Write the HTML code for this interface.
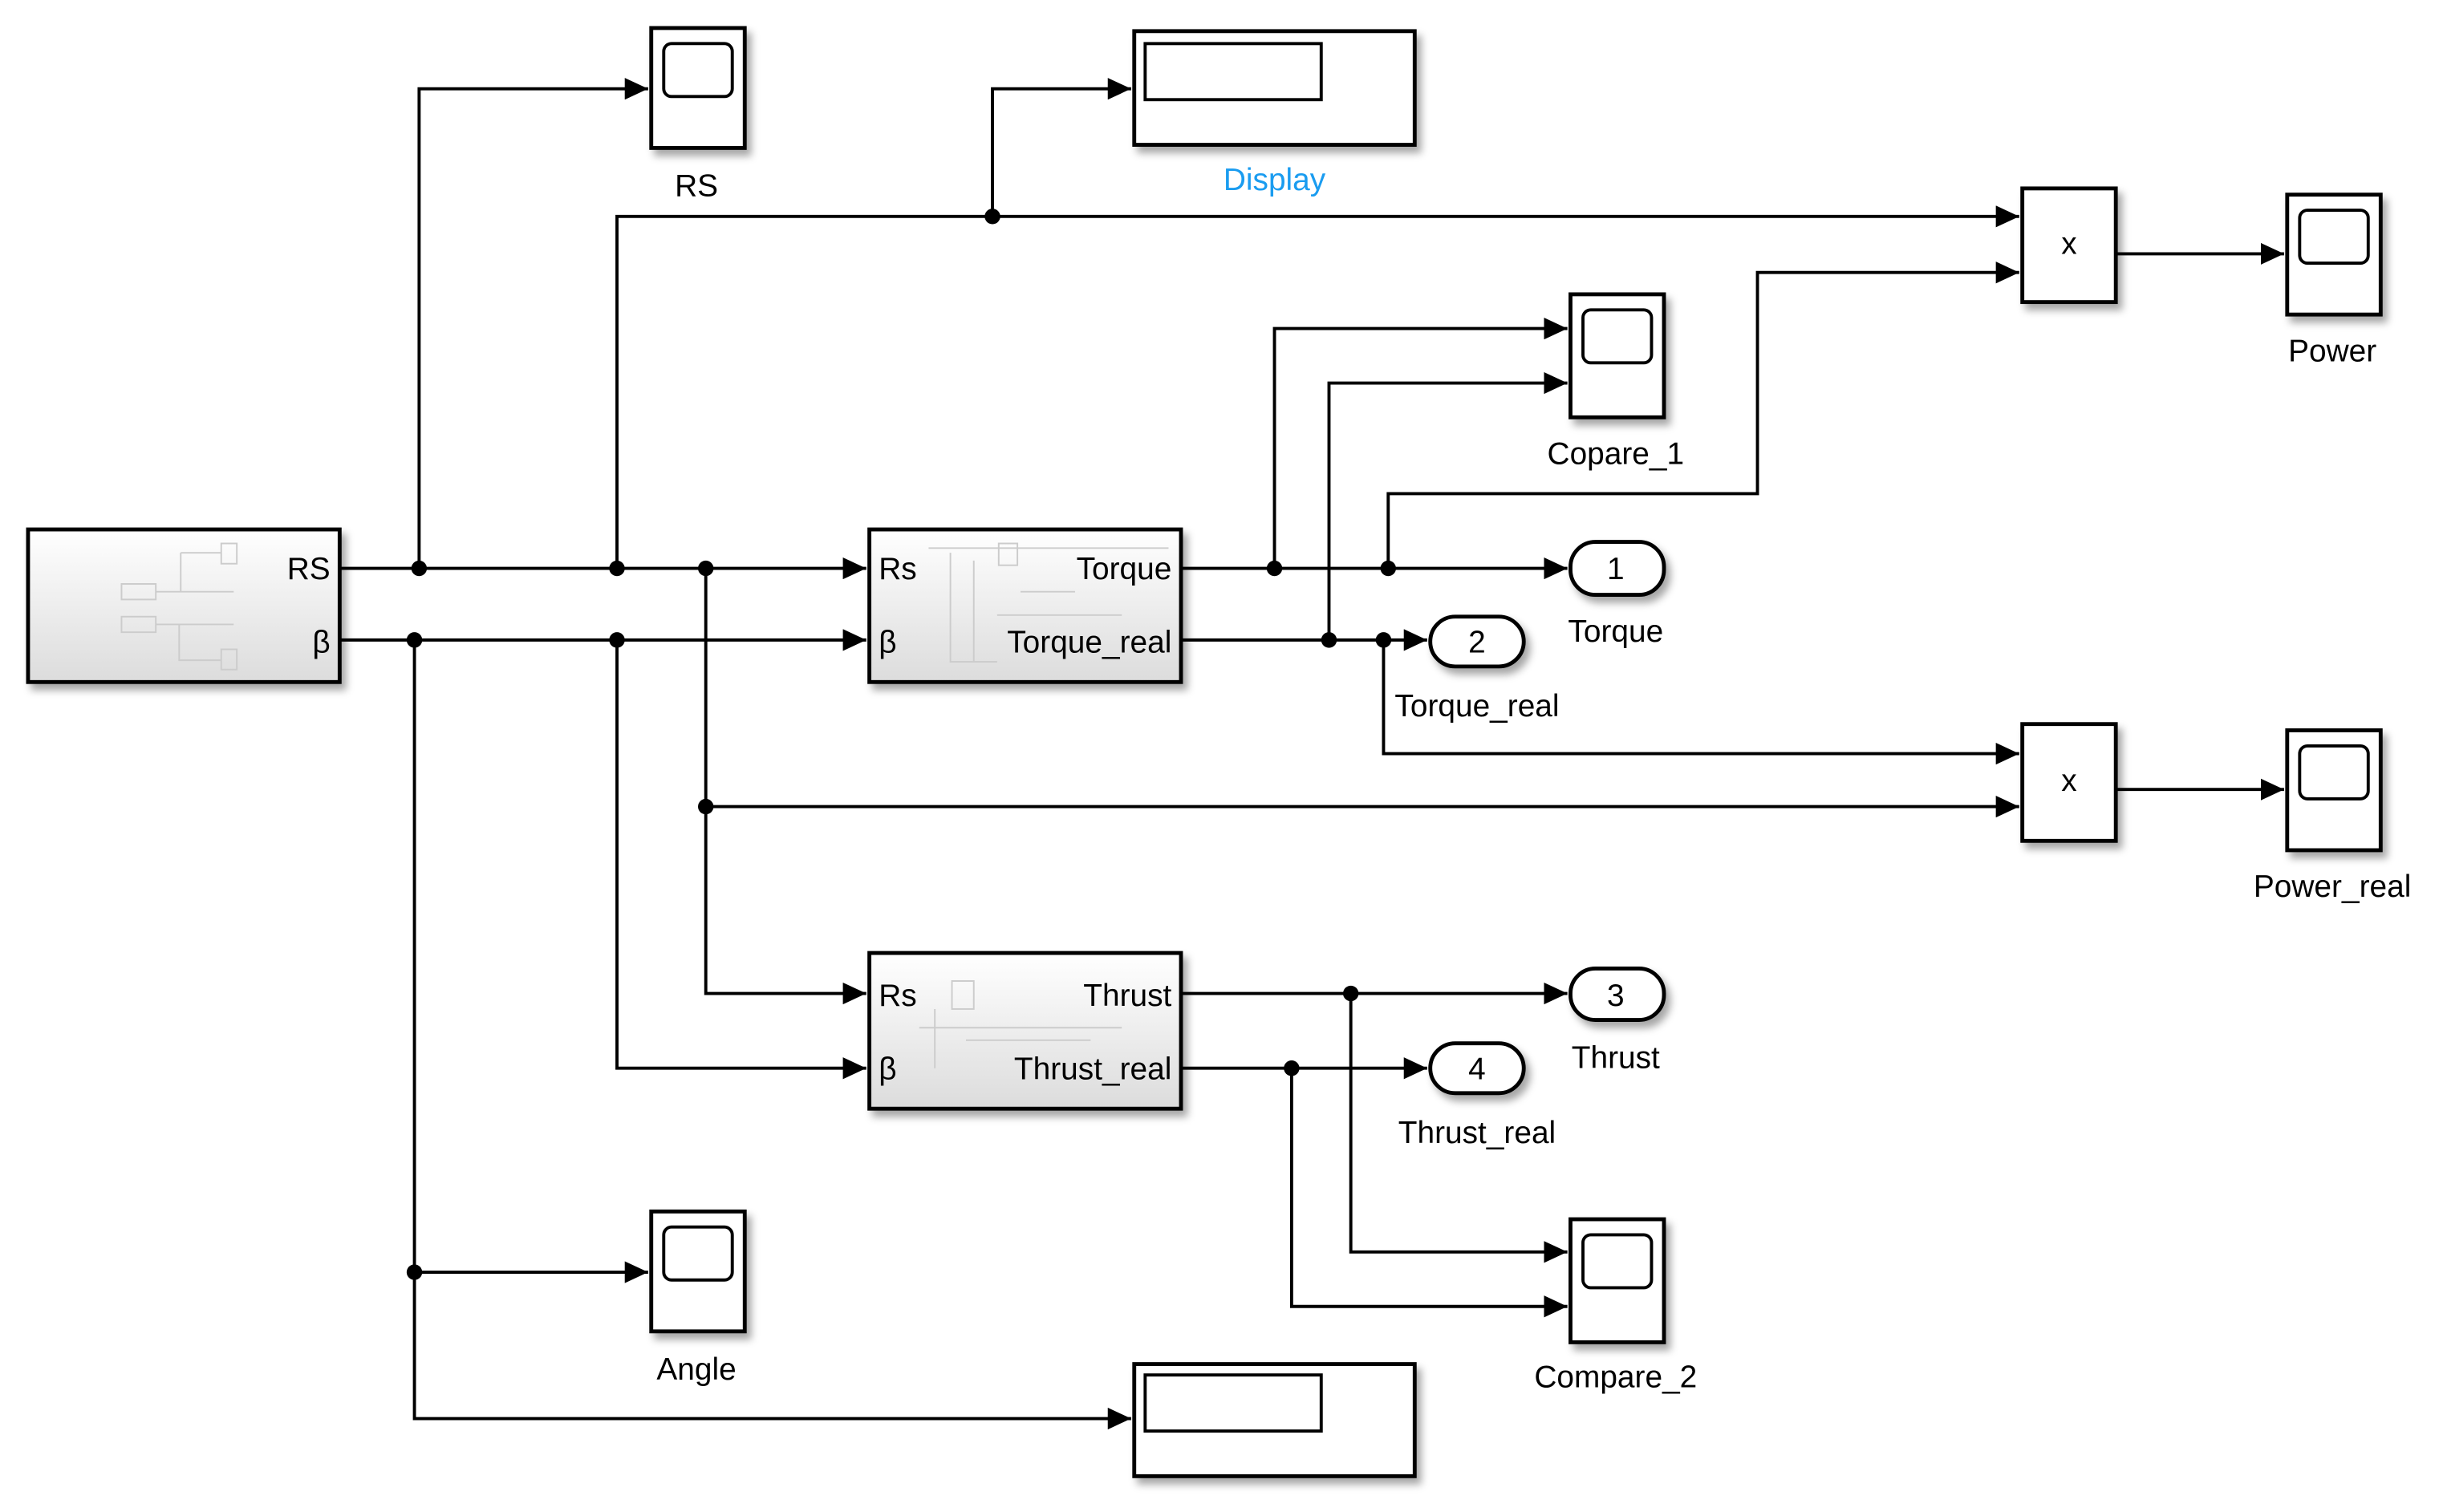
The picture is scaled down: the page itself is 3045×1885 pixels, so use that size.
<!DOCTYPE html>
<html><head><meta charset="utf-8"><style>
html,body{margin:0;padding:0;background:#fff;}
svg{display:block;}
text{font-family:"Liberation Sans",Arial,sans-serif;font-size:20px;fill:#000;}
</style></head><body>
<svg width="3045" height="1885" viewBox="0 0 1568 971" preserveAspectRatio="none" xmlns="http://www.w3.org/2000/svg">
<defs>
<linearGradient id="g" x1="0" y1="0" x2="0" y2="1"><stop offset="0" stop-color="#ffffff"/><stop offset="1" stop-color="#dcdcdc"/></linearGradient>
<filter id="sh" x="-20%" y="-20%" width="150%" height="150%"><feDropShadow dx="3" dy="4" stdDeviation="2.5" flood-color="#000" flood-opacity="0.35"/></filter>
<marker id="a" markerWidth="16" markerHeight="14" refX="15" refY="7" orient="auto" markerUnits="userSpaceOnUse"><path d="M0,0 L15,7 L0,14 z" fill="#000"/></marker>
</defs>
<g fill="none" stroke="#000" stroke-width="2">
<path d="M218,365 H556" marker-end="url(#a)"/>
<path d="M269,365 V57 H416" marker-end="url(#a)"/>
<path d="M396,365 V139 H1296" marker-end="url(#a)"/>
<path d="M637,139 V57 H726" marker-end="url(#a)"/>
<path d="M453,365 V638 H556" marker-end="url(#a)"/>
<path d="M453,518 H1296" marker-end="url(#a)"/>
<path d="M218,411 H556" marker-end="url(#a)"/>
<path d="M266,411 V911 H726" marker-end="url(#a)"/>
<path d="M266,817 H416" marker-end="url(#a)"/>
<path d="M396,411 V686 H556" marker-end="url(#a)"/>
<path d="M758,365 H1006" marker-end="url(#a)"/>
<path d="M818,365 V211 H1006" marker-end="url(#a)"/>
<path d="M891,365 V317 H1128 V175 H1296" marker-end="url(#a)"/>
<path d="M758,411 H916" marker-end="url(#a)"/>
<path d="M853,411 V246 H1006" marker-end="url(#a)"/>
<path d="M888,411 V484 H1296" marker-end="url(#a)"/>
<path d="M1358,163 H1466" marker-end="url(#a)"/>
<path d="M1358,507 H1466" marker-end="url(#a)"/>
<path d="M758,638 H1006" marker-end="url(#a)"/>
<path d="M867,638 V804 H1006" marker-end="url(#a)"/>
<path d="M758,686 H916" marker-end="url(#a)"/>
<path d="M829,686 V839 H1006" marker-end="url(#a)"/>
</g>
<g fill="#000">
<circle cx="269" cy="365" r="5"/><circle cx="396" cy="365" r="5"/><circle cx="453" cy="365" r="5"/>
<circle cx="266" cy="411" r="5"/><circle cx="396" cy="411" r="5"/>
<circle cx="637" cy="139" r="5"/><circle cx="453" cy="518" r="5"/><circle cx="266" cy="817" r="5"/>
<circle cx="818" cy="365" r="5"/><circle cx="891" cy="365" r="5"/>
<circle cx="853" cy="411" r="5"/><circle cx="888" cy="411" r="5"/>
<circle cx="867" cy="638" r="5"/><circle cx="829" cy="686" r="5"/>
</g>
<g stroke="#000" stroke-width="2.5" filter="url(#sh)">
<rect x="18" y="340" width="200" height="98" fill="url(#g)"/>
<rect x="558" y="340" width="200" height="98" fill="url(#g)"/>
<rect x="558" y="612" width="200" height="100" fill="url(#g)"/>
<rect x="418" y="18" width="60" height="77" fill="#fff"/>
<rect x="418" y="778" width="60" height="77" fill="#fff"/>
<rect x="1008" y="189" width="60" height="79" fill="#fff"/>
<rect x="1008" y="783" width="60" height="79" fill="#fff"/>
<rect x="1468" y="125" width="60" height="77" fill="#fff"/>
<rect x="1468" y="469" width="60" height="77" fill="#fff"/>
<rect x="728" y="20" width="180" height="73" fill="#fff"/>
<rect x="728" y="876" width="180" height="72" fill="#fff"/>
<rect x="1298" y="121" width="60" height="73" fill="#fff"/>
<rect x="1298" y="465" width="60" height="75" fill="#fff"/>
<rect x="1008" y="348" width="60" height="34" rx="16" fill="#fff"/>
<rect x="918" y="396" width="60" height="32" rx="16" fill="#fff"/>
<rect x="1008" y="622" width="60" height="33" rx="16" fill="#fff"/>
<rect x="918" y="670" width="60" height="32" rx="16" fill="#fff"/>
</g>
<g fill="none" stroke="#000" stroke-width="2">
<rect x="426" y="28" width="44" height="34" rx="5"/>
<rect x="426" y="788" width="44" height="34" rx="5"/>
<rect x="1016" y="199" width="44" height="34" rx="5"/>
<rect x="1016" y="793" width="44" height="34" rx="5"/>
<rect x="1476" y="135" width="44" height="34" rx="5"/>
<rect x="1476" y="479" width="44" height="34" rx="5"/>
<rect x="735" y="28" width="113" height="36"/>
<rect x="735" y="883" width="113" height="36"/>
</g>
<g fill="none" stroke="#ccc" stroke-width="1">
<rect x="142" y="349" width="10" height="13"/><rect x="78" y="375" width="22" height="10"/><rect x="78" y="396" width="22" height="10"/><rect x="142" y="417" width="10" height="13"/>
<path d="M116,355 H142 M100,380 H150 M116,355 V380 M100,401 H150 M115,401 V424 H142"/>
<rect x="641" y="349" width="12" height="14"/><path d="M596,352 H750 M610,355 V425 H640 M625,360 V425 M655,380 H690 M640,395 H720"/>
<rect x="611" y="630" width="14" height="18"/><path d="M590,660 H720 M600,648 V686 M620,668 H700"/>
</g>
<g text-anchor="middle">
<text x="447" y="126">RS</text>
<text x="818" y="122" style="fill:#1a9cf0">Display</text>
<text x="1328" y="163" font-size="18">x</text>
<text x="1328" y="508" font-size="18">x</text>
<text x="1497" y="232">Power</text>
<text x="1037" y="298">Copare_1</text>
<text x="1037" y="372">1</text>
<text x="1037" y="412">Torque</text>
<text x="948" y="419">2</text>
<text x="948" y="460">Torque_real</text>
<text x="1497" y="576">Power_real</text>
<text x="1037" y="646">3</text>
<text x="1037" y="686">Thrust</text>
<text x="948" y="693">4</text>
<text x="948" y="734">Thrust_real</text>
<text x="447" y="886">Angle</text>
<text x="1037" y="891">Compare_2</text>
</g>
<g>
<text x="212" y="372" text-anchor="end">RS</text>
<text x="212" y="419" text-anchor="end">β</text>
<text x="564" y="372">Rs</text>
<text x="564" y="419">β</text>
<text x="752" y="372" text-anchor="end">Torque</text>
<text x="752" y="419" text-anchor="end">Torque_real</text>
<text x="564" y="646">Rs</text>
<text x="564" y="693">β</text>
<text x="752" y="646" text-anchor="end">Thrust</text>
<text x="752" y="693" text-anchor="end">Thrust_real</text>
</g>
</svg>
</body></html>
